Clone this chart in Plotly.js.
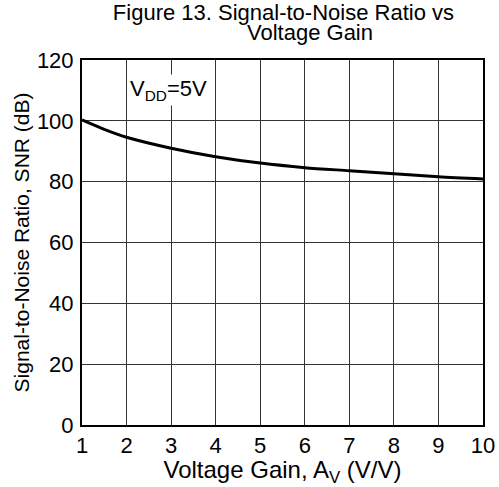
<!DOCTYPE html>
<html>
<head>
<meta charset="utf-8">
<script src="https://cdn.plot.ly/plotly-3.0.1.min.js"></script>
<style>html,body{margin:0;padding:0;background:#fff;}#chart{width:499px;height:487px;}</style>
</head>
<body>
<div id="chart"></div>
<script>
// Data
const gain = [1, 1.5, 2, 3, 4, 5, 6, 7, 8, 9, 10];
const snr  = [100.3, 97.2, 94.6, 91.0, 88.2, 86.1, 84.6, 83.6, 82.6, 81.6, 80.9];
const xTicks = [1, 2, 3, 4, 5, 6, 7, 8, 9, 10];
const yTicks = [0, 20, 40, 60, 80, 100, 120];
const titleLine1 = "Figure 13. Signal-to-Noise Ratio vs";
const titleLine2 = "Voltage Gain";
const xTitle = "Voltage Gain, A<sub>V</sub> (V/V)";
const yTitle = "Signal-to-Noise Ratio, SNR (dB)";
const noteText = "V<sub>DD</sub>=5V";

const fam = "Liberation Sans, Arial, sans-serif";
const tickFont = {family: fam, size: 22, color: "#000"};
const xTitleFont = {family: fam, size: 24, color: "#000"};
const yTitleFont = {family: fam, size: 21, color: "#000"};
const titleFont = {family: fam, size: 22, color: "#000"};

const trace = {
  x: gain, y: snr, type: "scatter", mode: "lines",
  line: {color: "#000", width: 3, shape: "spline", smoothing: 0.8},
  hoverinfo: "skip"
};

const layout = {
  width: 499, height: 487,
  margin: {l: 82, r: 16, t: 60, b: 62},
  paper_bgcolor: "#fff", plot_bgcolor: "#fff",
  font: tickFont,
  showlegend: false,
  title: {text: titleLine1, font: titleFont,
          x: 0.568, xanchor: "center", y: 0.9745, yanchor: "middle"},
  xaxis: {
    range: [1, 10], tickvals: xTicks, ticktext: xTicks.map(String),
    showgrid: true, gridcolor: "#333", gridwidth: 1,
    showline: true, linecolor: "#000", linewidth: 2, mirror: true,
    ticks: "", tickfont: tickFont, zeroline: false,
    title: {text: xTitle, font: xTitleFont, standoff: 0}
  },
  yaxis: {
    range: [0, 120], tickvals: yTicks, ticktext: yTicks.map(String),
    showgrid: true, gridcolor: "#333", gridwidth: 1,
    showline: true, linecolor: "#000", linewidth: 2, mirror: true,
    ticks: "", tickfont: tickFont, zeroline: false, ticklabelstandoff: 2,
    title: {text: yTitle, font: yTitleFont, standoff: 2}
  },
  annotations: [{
    x: 0.568, y: 1.0, xref: "paper", yref: "paper", yshift: 28,
    text: titleLine2, showarrow: false, xanchor: "center", yanchor: "middle",
    font: titleFont
  }, {
    x: 2.03, y: 110, xref: "x", yref: "y", text: noteText, showarrow: false,
    xanchor: "left", yanchor: "middle", bgcolor: "#fff",
    font: {family: fam, size: 22, color: "#000"}
  }]
};

Plotly.newPlot("chart", [trace], layout, {staticPlot: true, displayModeBar: false});
</script>
</body>
</html>
